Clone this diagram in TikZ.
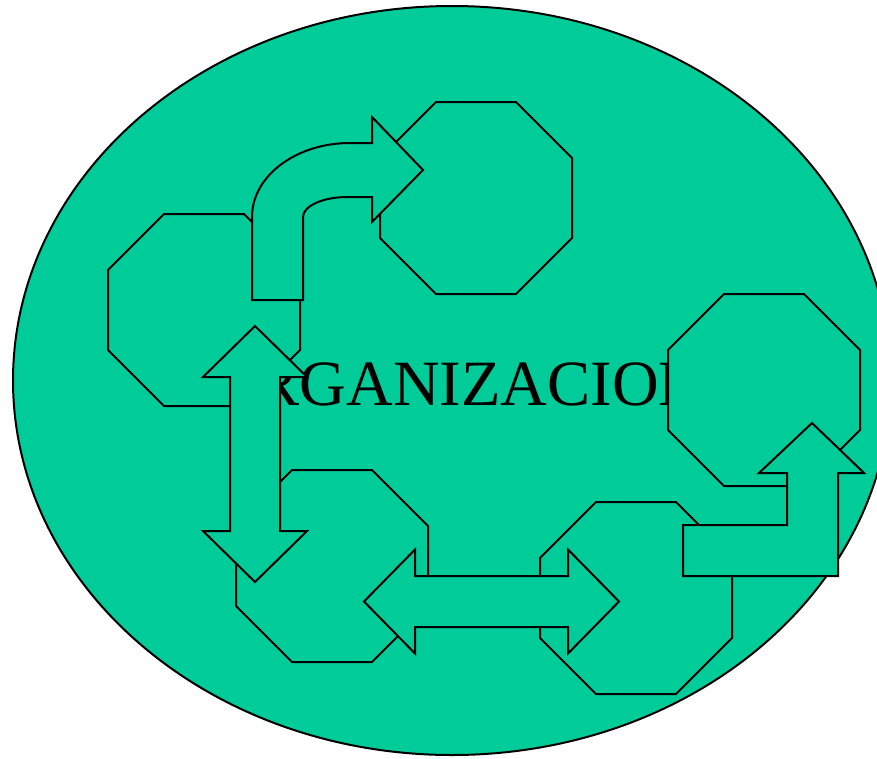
\documentclass[tikz,border=0pt]{standalone}
\usepackage{fontspec}
\setmainfont{Liberation Serif}
\definecolor{orgfill}{RGB}{0,204,153}
\begin{document}
\begin{tikzpicture}[x=1pt,y=-1pt,
  shapestyle/.style={draw=black,line width=2pt,fill=orgfill,line join=miter},
  octa/.pic={\path[shapestyle] (56,0) -- (136,0) -- (192,56) -- (192,136) -- (136,192) -- (56,192) -- (0,136) -- (0,56) -- cycle;}]
\useasboundingbox (0,0) rectangle (877,758);
\clip (0,0) rectangle (877,758);
\fill[white] (0,0) rectangle (877,758);
% big ellipse
\path[shapestyle] (452,380.5) ellipse [x radius=439pt, y radius=374.5pt];
% title text (partly hidden by shapes)
\node[anchor=base west, inner sep=0pt, font=\fontsize{64.6}{70}\selectfont] (title) at (210,405) {ORGANIZACION};
% octagons
\pic at (108,214) {octa};
\pic at (380,102) {octa};
\pic at (236,470) {octa};
\pic at (540,502) {octa};
\pic at (668,294) {octa};
% curved arrow
\path[shapestyle] (252,300) -- (252,217) .. controls (252,176) and (296,143) .. (350,143)
  -- (372,143) -- (372,117) -- (423,170) -- (372,222) -- (372,197) -- (347,197)
  .. controls (323,197) and (303,206) .. (303,217) -- (303,300) -- cycle;
% vertical double arrow
\path[shapestyle] (255,326) -- (307,377) -- (280,377) -- (280,531) -- (307,531) -- (255,582)
  -- (203,531) -- (230,531) -- (230,377) -- (203,377) -- cycle;
% horizontal double arrow
\path[shapestyle] (364,601.5) -- (415,549.5) -- (415,576) -- (568,576) -- (568,549.5) -- (619,601.5)
  -- (568,653.5) -- (568,627) -- (415,627) -- (415,653.5) -- cycle;
% bent-up arrow
\path[shapestyle] (683,525) -- (787,525) -- (787,473) -- (759,473) -- (812,423) -- (864,473)
  -- (838,473) -- (838,576) -- (683,576) -- cycle;
\end{tikzpicture}
\end{document}
